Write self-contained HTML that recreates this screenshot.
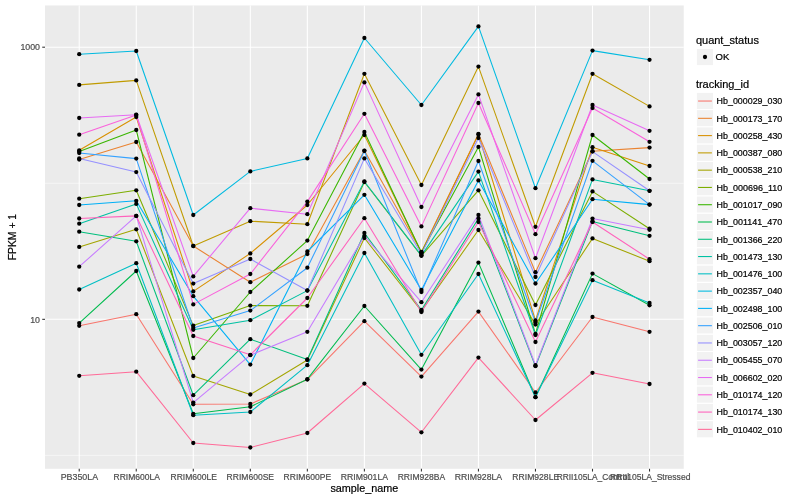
<!DOCTYPE html><html><head><meta charset="utf-8"><title>FPKM chart</title><style>
html,body{margin:0;padding:0;background:#fff;}body{width:800px;height:500px;overflow:hidden;font-family:"Liberation Sans",sans-serif;}svg{display:block;will-change:transform}text{font-family:"Liberation Sans",sans-serif;}
</style></head><body>
<svg width="800" height="500" viewBox="0 0 800 500">
<rect width="800" height="500" fill="#ffffff"/>
<rect x="45.0" y="5.45" width="638.75" height="463.35" fill="#EBEBEB"/>
<line x1="45.0" x2="683.75" y1="183.27" y2="183.27" stroke="#FFFFFF" stroke-width="0.53"/>
<line x1="45.0" x2="683.75" y1="455.40" y2="455.40" stroke="#FFFFFF" stroke-width="0.53"/>
<line x1="45.0" x2="683.75" y1="47.20" y2="47.20" stroke="#FFFFFF" stroke-width="1.07"/>
<line x1="45.0" x2="683.75" y1="319.33" y2="319.33" stroke="#FFFFFF" stroke-width="1.07"/>
<line x1="79.22" x2="79.22" y1="5.45" y2="468.8" stroke="#FFFFFF" stroke-width="1.07"/>
<line x1="136.25" x2="136.25" y1="5.45" y2="468.8" stroke="#FFFFFF" stroke-width="1.07"/>
<line x1="193.28" x2="193.28" y1="5.45" y2="468.8" stroke="#FFFFFF" stroke-width="1.07"/>
<line x1="250.31" x2="250.31" y1="5.45" y2="468.8" stroke="#FFFFFF" stroke-width="1.07"/>
<line x1="307.34" x2="307.34" y1="5.45" y2="468.8" stroke="#FFFFFF" stroke-width="1.07"/>
<line x1="364.38" x2="364.38" y1="5.45" y2="468.8" stroke="#FFFFFF" stroke-width="1.07"/>
<line x1="421.41" x2="421.41" y1="5.45" y2="468.8" stroke="#FFFFFF" stroke-width="1.07"/>
<line x1="478.44" x2="478.44" y1="5.45" y2="468.8" stroke="#FFFFFF" stroke-width="1.07"/>
<line x1="535.47" x2="535.47" y1="5.45" y2="468.8" stroke="#FFFFFF" stroke-width="1.07"/>
<line x1="592.50" x2="592.50" y1="5.45" y2="468.8" stroke="#FFFFFF" stroke-width="1.07"/>
<line x1="649.53" x2="649.53" y1="5.45" y2="468.8" stroke="#FFFFFF" stroke-width="1.07"/>
<g fill="none" stroke-width="1.07" stroke-linejoin="round" stroke-linecap="butt">
<polyline points="79.22,325.80 136.25,314.20 193.28,404.30 250.31,404.00 307.34,379.60 364.38,321.20 421.41,376.60 478.44,311.60 535.47,392.50 592.50,317.00 649.53,331.80" stroke="#F8766D"/>
<polyline points="79.22,159.50 136.25,142.00 193.28,246.00 250.31,282.20 307.34,254.00 364.38,150.60 421.41,252.00 478.44,134.00 535.47,272.20 592.50,151.20 649.53,147.60" stroke="#EA8331"/>
<polyline points="79.22,150.30 136.25,117.00 193.28,291.40 250.31,253.40 307.34,205.00 364.38,135.00 421.41,252.50 478.44,134.50 535.47,320.50 592.50,147.20 649.53,166.00" stroke="#D89000"/>
<polyline points="79.22,84.90 136.25,80.40 193.28,246.00 250.31,221.20 307.34,224.20 364.38,73.80 421.41,185.00 478.44,66.60 535.47,226.80 592.50,73.80 649.53,106.40" stroke="#C09B00"/>
<polyline points="79.22,246.90 136.25,229.30 193.28,376.00 250.31,394.50 307.34,360.00 364.38,238.00 421.41,311.00 478.44,230.00 535.47,324.50 592.50,238.40 649.53,261.20" stroke="#A3A500"/>
<polyline points="79.22,198.70 136.25,190.30 193.28,325.60 250.31,305.60 307.34,305.80 364.38,182.00 421.41,255.80 478.44,190.30 535.47,305.00 592.50,191.40 649.53,228.70" stroke="#7CAE00"/>
<polyline points="79.22,151.50 136.25,130.00 193.28,358.00 250.31,292.00 307.34,240.60 364.38,132.00 421.41,252.50 478.44,146.90 535.47,334.00 592.50,135.00 649.53,179.00" stroke="#39B600"/>
<polyline points="79.22,323.10 136.25,271.00 193.28,413.80 250.31,406.80 307.34,379.20 364.38,306.00 421.41,369.60 478.44,262.60 535.47,397.20 592.50,273.60 649.53,305.30" stroke="#00BB4E"/>
<polyline points="79.22,231.70 136.25,241.30 193.28,395.20 250.31,339.20 307.34,359.50 364.38,233.00 421.41,310.00 478.44,218.50 535.47,366.20 592.50,221.40 649.53,235.80" stroke="#00BF7D"/>
<polyline points="79.22,223.70 136.25,203.90 193.28,329.80 250.31,320.20 307.34,290.60 364.38,181.50 421.41,255.60 478.44,171.60 535.47,335.00 592.50,179.40 649.53,190.80" stroke="#00C1A3"/>
<polyline points="79.22,289.50 136.25,263.20 193.28,415.20 250.31,412.00 307.34,365.20 364.38,253.00 421.41,354.80 478.44,274.00 535.47,397.20 592.50,280.20 649.53,302.90" stroke="#00BFC4"/>
<polyline points="79.22,54.20 136.25,51.00 193.28,215.00 250.31,171.40 307.34,158.40 364.38,38.00 421.41,105.00 478.44,26.40 535.47,188.20 592.50,50.60 649.53,59.80" stroke="#00BAE0"/>
<polyline points="79.22,205.00 136.25,200.80 193.28,296.20 250.31,364.60 307.34,251.50 364.38,194.80 421.41,290.00 478.44,180.40 535.47,283.50 592.50,199.20 649.53,204.60" stroke="#00B0F6"/>
<polyline points="79.22,153.00 136.25,158.60 193.28,328.00 250.31,310.60 307.34,267.70 364.38,151.00 421.41,292.00 478.44,161.00 535.47,322.50 592.50,160.80 649.53,204.60" stroke="#35A2FF"/>
<polyline points="79.22,158.50 136.25,172.10 193.28,283.60 250.31,259.00 307.34,290.50 364.38,158.40 421.41,254.00 478.44,138.00 535.47,277.00 592.50,151.60 649.53,190.80" stroke="#9590FF"/>
<polyline points="79.22,266.70 136.25,215.90 193.28,402.60 250.31,355.20 307.34,331.80 364.38,236.00 421.41,302.20 478.44,215.00 535.47,365.20 592.50,218.60 649.53,229.80" stroke="#C77CFF"/>
<polyline points="79.22,118.00 136.25,114.70 193.28,276.40 250.31,208.20 307.34,214.20 364.38,82.40 421.41,207.00 478.44,94.40 535.47,258.20 592.50,105.00 649.53,130.80" stroke="#E76BF3"/>
<polyline points="79.22,134.70 136.25,115.00 193.28,304.40 250.31,274.00 307.34,201.60 364.38,113.80 421.41,226.40 478.44,103.00 535.47,234.20 592.50,108.00 649.53,141.80" stroke="#FA62DB"/>
<polyline points="79.22,218.50 136.25,215.90 193.28,336.00 250.31,354.80 307.34,298.00 364.38,218.20 421.41,312.00 478.44,222.00 535.47,342.00 592.50,222.00 649.53,259.20" stroke="#FF62BC"/>
<polyline points="79.22,375.80 136.25,371.70 193.28,443.00 250.31,447.50 307.34,433.00 364.38,383.60 421.41,432.30 478.44,357.60 535.47,420.00 592.50,372.80 649.53,384.00" stroke="#FF6A98"/>
</g>
<g fill="#000">
<circle cx="79.22" cy="325.80" r="2.13"/>
<circle cx="79.22" cy="159.50" r="2.13"/>
<circle cx="79.22" cy="150.30" r="2.13"/>
<circle cx="79.22" cy="84.90" r="2.13"/>
<circle cx="79.22" cy="246.90" r="2.13"/>
<circle cx="79.22" cy="198.70" r="2.13"/>
<circle cx="79.22" cy="151.50" r="2.13"/>
<circle cx="79.22" cy="323.10" r="2.13"/>
<circle cx="79.22" cy="231.70" r="2.13"/>
<circle cx="79.22" cy="223.70" r="2.13"/>
<circle cx="79.22" cy="289.50" r="2.13"/>
<circle cx="79.22" cy="54.20" r="2.13"/>
<circle cx="79.22" cy="205.00" r="2.13"/>
<circle cx="79.22" cy="153.00" r="2.13"/>
<circle cx="79.22" cy="158.50" r="2.13"/>
<circle cx="79.22" cy="266.70" r="2.13"/>
<circle cx="79.22" cy="118.00" r="2.13"/>
<circle cx="79.22" cy="134.70" r="2.13"/>
<circle cx="79.22" cy="218.50" r="2.13"/>
<circle cx="79.22" cy="375.80" r="2.13"/>
<circle cx="136.25" cy="314.20" r="2.13"/>
<circle cx="136.25" cy="142.00" r="2.13"/>
<circle cx="136.25" cy="117.00" r="2.13"/>
<circle cx="136.25" cy="80.40" r="2.13"/>
<circle cx="136.25" cy="229.30" r="2.13"/>
<circle cx="136.25" cy="190.30" r="2.13"/>
<circle cx="136.25" cy="130.00" r="2.13"/>
<circle cx="136.25" cy="271.00" r="2.13"/>
<circle cx="136.25" cy="241.30" r="2.13"/>
<circle cx="136.25" cy="203.90" r="2.13"/>
<circle cx="136.25" cy="263.20" r="2.13"/>
<circle cx="136.25" cy="51.00" r="2.13"/>
<circle cx="136.25" cy="200.80" r="2.13"/>
<circle cx="136.25" cy="158.60" r="2.13"/>
<circle cx="136.25" cy="172.10" r="2.13"/>
<circle cx="136.25" cy="215.90" r="2.13"/>
<circle cx="136.25" cy="114.70" r="2.13"/>
<circle cx="136.25" cy="115.00" r="2.13"/>
<circle cx="136.25" cy="215.90" r="2.13"/>
<circle cx="136.25" cy="371.70" r="2.13"/>
<circle cx="193.28" cy="404.30" r="2.13"/>
<circle cx="193.28" cy="246.00" r="2.13"/>
<circle cx="193.28" cy="291.40" r="2.13"/>
<circle cx="193.28" cy="246.00" r="2.13"/>
<circle cx="193.28" cy="376.00" r="2.13"/>
<circle cx="193.28" cy="325.60" r="2.13"/>
<circle cx="193.28" cy="358.00" r="2.13"/>
<circle cx="193.28" cy="413.80" r="2.13"/>
<circle cx="193.28" cy="395.20" r="2.13"/>
<circle cx="193.28" cy="329.80" r="2.13"/>
<circle cx="193.28" cy="415.20" r="2.13"/>
<circle cx="193.28" cy="215.00" r="2.13"/>
<circle cx="193.28" cy="296.20" r="2.13"/>
<circle cx="193.28" cy="328.00" r="2.13"/>
<circle cx="193.28" cy="283.60" r="2.13"/>
<circle cx="193.28" cy="402.60" r="2.13"/>
<circle cx="193.28" cy="276.40" r="2.13"/>
<circle cx="193.28" cy="304.40" r="2.13"/>
<circle cx="193.28" cy="336.00" r="2.13"/>
<circle cx="193.28" cy="443.00" r="2.13"/>
<circle cx="250.31" cy="404.00" r="2.13"/>
<circle cx="250.31" cy="282.20" r="2.13"/>
<circle cx="250.31" cy="253.40" r="2.13"/>
<circle cx="250.31" cy="221.20" r="2.13"/>
<circle cx="250.31" cy="394.50" r="2.13"/>
<circle cx="250.31" cy="305.60" r="2.13"/>
<circle cx="250.31" cy="292.00" r="2.13"/>
<circle cx="250.31" cy="406.80" r="2.13"/>
<circle cx="250.31" cy="339.20" r="2.13"/>
<circle cx="250.31" cy="320.20" r="2.13"/>
<circle cx="250.31" cy="412.00" r="2.13"/>
<circle cx="250.31" cy="171.40" r="2.13"/>
<circle cx="250.31" cy="364.60" r="2.13"/>
<circle cx="250.31" cy="310.60" r="2.13"/>
<circle cx="250.31" cy="259.00" r="2.13"/>
<circle cx="250.31" cy="355.20" r="2.13"/>
<circle cx="250.31" cy="208.20" r="2.13"/>
<circle cx="250.31" cy="274.00" r="2.13"/>
<circle cx="250.31" cy="354.80" r="2.13"/>
<circle cx="250.31" cy="447.50" r="2.13"/>
<circle cx="307.34" cy="379.60" r="2.13"/>
<circle cx="307.34" cy="254.00" r="2.13"/>
<circle cx="307.34" cy="205.00" r="2.13"/>
<circle cx="307.34" cy="224.20" r="2.13"/>
<circle cx="307.34" cy="360.00" r="2.13"/>
<circle cx="307.34" cy="305.80" r="2.13"/>
<circle cx="307.34" cy="240.60" r="2.13"/>
<circle cx="307.34" cy="379.20" r="2.13"/>
<circle cx="307.34" cy="359.50" r="2.13"/>
<circle cx="307.34" cy="290.60" r="2.13"/>
<circle cx="307.34" cy="365.20" r="2.13"/>
<circle cx="307.34" cy="158.40" r="2.13"/>
<circle cx="307.34" cy="251.50" r="2.13"/>
<circle cx="307.34" cy="267.70" r="2.13"/>
<circle cx="307.34" cy="290.50" r="2.13"/>
<circle cx="307.34" cy="331.80" r="2.13"/>
<circle cx="307.34" cy="214.20" r="2.13"/>
<circle cx="307.34" cy="201.60" r="2.13"/>
<circle cx="307.34" cy="298.00" r="2.13"/>
<circle cx="307.34" cy="433.00" r="2.13"/>
<circle cx="364.38" cy="321.20" r="2.13"/>
<circle cx="364.38" cy="150.60" r="2.13"/>
<circle cx="364.38" cy="135.00" r="2.13"/>
<circle cx="364.38" cy="73.80" r="2.13"/>
<circle cx="364.38" cy="238.00" r="2.13"/>
<circle cx="364.38" cy="182.00" r="2.13"/>
<circle cx="364.38" cy="132.00" r="2.13"/>
<circle cx="364.38" cy="306.00" r="2.13"/>
<circle cx="364.38" cy="233.00" r="2.13"/>
<circle cx="364.38" cy="181.50" r="2.13"/>
<circle cx="364.38" cy="253.00" r="2.13"/>
<circle cx="364.38" cy="38.00" r="2.13"/>
<circle cx="364.38" cy="194.80" r="2.13"/>
<circle cx="364.38" cy="151.00" r="2.13"/>
<circle cx="364.38" cy="158.40" r="2.13"/>
<circle cx="364.38" cy="236.00" r="2.13"/>
<circle cx="364.38" cy="82.40" r="2.13"/>
<circle cx="364.38" cy="113.80" r="2.13"/>
<circle cx="364.38" cy="218.20" r="2.13"/>
<circle cx="364.38" cy="383.60" r="2.13"/>
<circle cx="421.41" cy="376.60" r="2.13"/>
<circle cx="421.41" cy="252.00" r="2.13"/>
<circle cx="421.41" cy="252.50" r="2.13"/>
<circle cx="421.41" cy="185.00" r="2.13"/>
<circle cx="421.41" cy="311.00" r="2.13"/>
<circle cx="421.41" cy="255.80" r="2.13"/>
<circle cx="421.41" cy="252.50" r="2.13"/>
<circle cx="421.41" cy="369.60" r="2.13"/>
<circle cx="421.41" cy="310.00" r="2.13"/>
<circle cx="421.41" cy="255.60" r="2.13"/>
<circle cx="421.41" cy="354.80" r="2.13"/>
<circle cx="421.41" cy="105.00" r="2.13"/>
<circle cx="421.41" cy="290.00" r="2.13"/>
<circle cx="421.41" cy="292.00" r="2.13"/>
<circle cx="421.41" cy="254.00" r="2.13"/>
<circle cx="421.41" cy="302.20" r="2.13"/>
<circle cx="421.41" cy="207.00" r="2.13"/>
<circle cx="421.41" cy="226.40" r="2.13"/>
<circle cx="421.41" cy="312.00" r="2.13"/>
<circle cx="421.41" cy="432.30" r="2.13"/>
<circle cx="478.44" cy="311.60" r="2.13"/>
<circle cx="478.44" cy="134.00" r="2.13"/>
<circle cx="478.44" cy="134.50" r="2.13"/>
<circle cx="478.44" cy="66.60" r="2.13"/>
<circle cx="478.44" cy="230.00" r="2.13"/>
<circle cx="478.44" cy="190.30" r="2.13"/>
<circle cx="478.44" cy="146.90" r="2.13"/>
<circle cx="478.44" cy="262.60" r="2.13"/>
<circle cx="478.44" cy="218.50" r="2.13"/>
<circle cx="478.44" cy="171.60" r="2.13"/>
<circle cx="478.44" cy="274.00" r="2.13"/>
<circle cx="478.44" cy="26.40" r="2.13"/>
<circle cx="478.44" cy="180.40" r="2.13"/>
<circle cx="478.44" cy="161.00" r="2.13"/>
<circle cx="478.44" cy="138.00" r="2.13"/>
<circle cx="478.44" cy="215.00" r="2.13"/>
<circle cx="478.44" cy="94.40" r="2.13"/>
<circle cx="478.44" cy="103.00" r="2.13"/>
<circle cx="478.44" cy="222.00" r="2.13"/>
<circle cx="478.44" cy="357.60" r="2.13"/>
<circle cx="535.47" cy="392.50" r="2.13"/>
<circle cx="535.47" cy="272.20" r="2.13"/>
<circle cx="535.47" cy="320.50" r="2.13"/>
<circle cx="535.47" cy="226.80" r="2.13"/>
<circle cx="535.47" cy="324.50" r="2.13"/>
<circle cx="535.47" cy="305.00" r="2.13"/>
<circle cx="535.47" cy="334.00" r="2.13"/>
<circle cx="535.47" cy="397.20" r="2.13"/>
<circle cx="535.47" cy="366.20" r="2.13"/>
<circle cx="535.47" cy="335.00" r="2.13"/>
<circle cx="535.47" cy="397.20" r="2.13"/>
<circle cx="535.47" cy="188.20" r="2.13"/>
<circle cx="535.47" cy="283.50" r="2.13"/>
<circle cx="535.47" cy="322.50" r="2.13"/>
<circle cx="535.47" cy="277.00" r="2.13"/>
<circle cx="535.47" cy="365.20" r="2.13"/>
<circle cx="535.47" cy="258.20" r="2.13"/>
<circle cx="535.47" cy="234.20" r="2.13"/>
<circle cx="535.47" cy="342.00" r="2.13"/>
<circle cx="535.47" cy="420.00" r="2.13"/>
<circle cx="592.50" cy="317.00" r="2.13"/>
<circle cx="592.50" cy="151.20" r="2.13"/>
<circle cx="592.50" cy="147.20" r="2.13"/>
<circle cx="592.50" cy="73.80" r="2.13"/>
<circle cx="592.50" cy="238.40" r="2.13"/>
<circle cx="592.50" cy="191.40" r="2.13"/>
<circle cx="592.50" cy="135.00" r="2.13"/>
<circle cx="592.50" cy="273.60" r="2.13"/>
<circle cx="592.50" cy="221.40" r="2.13"/>
<circle cx="592.50" cy="179.40" r="2.13"/>
<circle cx="592.50" cy="280.20" r="2.13"/>
<circle cx="592.50" cy="50.60" r="2.13"/>
<circle cx="592.50" cy="199.20" r="2.13"/>
<circle cx="592.50" cy="160.80" r="2.13"/>
<circle cx="592.50" cy="151.60" r="2.13"/>
<circle cx="592.50" cy="218.60" r="2.13"/>
<circle cx="592.50" cy="105.00" r="2.13"/>
<circle cx="592.50" cy="108.00" r="2.13"/>
<circle cx="592.50" cy="222.00" r="2.13"/>
<circle cx="592.50" cy="372.80" r="2.13"/>
<circle cx="649.53" cy="331.80" r="2.13"/>
<circle cx="649.53" cy="147.60" r="2.13"/>
<circle cx="649.53" cy="166.00" r="2.13"/>
<circle cx="649.53" cy="106.40" r="2.13"/>
<circle cx="649.53" cy="261.20" r="2.13"/>
<circle cx="649.53" cy="228.70" r="2.13"/>
<circle cx="649.53" cy="179.00" r="2.13"/>
<circle cx="649.53" cy="305.30" r="2.13"/>
<circle cx="649.53" cy="235.80" r="2.13"/>
<circle cx="649.53" cy="190.80" r="2.13"/>
<circle cx="649.53" cy="302.90" r="2.13"/>
<circle cx="649.53" cy="59.80" r="2.13"/>
<circle cx="649.53" cy="204.60" r="2.13"/>
<circle cx="649.53" cy="204.60" r="2.13"/>
<circle cx="649.53" cy="190.80" r="2.13"/>
<circle cx="649.53" cy="229.80" r="2.13"/>
<circle cx="649.53" cy="130.80" r="2.13"/>
<circle cx="649.53" cy="141.80" r="2.13"/>
<circle cx="649.53" cy="259.20" r="2.13"/>
<circle cx="649.53" cy="384.00" r="2.13"/>
</g>
<g stroke="#333333" stroke-width="1.07">
<line x1="42.25" x2="45.0" y1="47.20" y2="47.20"/>
<line x1="42.25" x2="45.0" y1="319.33" y2="319.33"/>
<line x1="79.22" x2="79.22" y1="468.8" y2="471.55"/>
<line x1="136.25" x2="136.25" y1="468.8" y2="471.55"/>
<line x1="193.28" x2="193.28" y1="468.8" y2="471.55"/>
<line x1="250.31" x2="250.31" y1="468.8" y2="471.55"/>
<line x1="307.34" x2="307.34" y1="468.8" y2="471.55"/>
<line x1="364.38" x2="364.38" y1="468.8" y2="471.55"/>
<line x1="421.41" x2="421.41" y1="468.8" y2="471.55"/>
<line x1="478.44" x2="478.44" y1="468.8" y2="471.55"/>
<line x1="535.47" x2="535.47" y1="468.8" y2="471.55"/>
<line x1="592.50" x2="592.50" y1="468.8" y2="471.55"/>
<line x1="649.53" x2="649.53" y1="468.8" y2="471.55"/>
</g>
<g font-size="8.8" fill="#4D4D4D" stroke="#4D4D4D" stroke-width="0.2">
<text x="40" y="50.1" text-anchor="end">1000</text>
<text x="40" y="322.9" text-anchor="end">10</text>
<text x="79.42" y="479.8" text-anchor="middle" textLength="37.4" lengthAdjust="spacingAndGlyphs">PB350LA</text>
<text x="136.75" y="479.8" text-anchor="middle" textLength="46.5" lengthAdjust="spacingAndGlyphs">RRIM600LA</text>
<text x="193.78" y="479.8" text-anchor="middle" textLength="46.5" lengthAdjust="spacingAndGlyphs">RRIM600LE</text>
<text x="250.31" y="479.8" text-anchor="middle" textLength="47.5" lengthAdjust="spacingAndGlyphs">RRIM600SE</text>
<text x="307.34" y="479.8" text-anchor="middle" textLength="47.5" lengthAdjust="spacingAndGlyphs">RRIM600PE</text>
<text x="364.38" y="479.8" text-anchor="middle" textLength="47.5" lengthAdjust="spacingAndGlyphs">RRIM901LA</text>
<text x="421.41" y="479.8" text-anchor="middle" textLength="47.5" lengthAdjust="spacingAndGlyphs">RRIM928BA</text>
<text x="478.44" y="479.8" text-anchor="middle" textLength="47.5" lengthAdjust="spacingAndGlyphs">RRIM928LA</text>
<text x="535.77" y="479.8" text-anchor="middle" textLength="46.8" lengthAdjust="spacingAndGlyphs">RRIM928LE</text>
<text x="592.90" y="479.8" text-anchor="middle" textLength="72.5" lengthAdjust="spacingAndGlyphs">RRII105LA_Control</text>
<text x="650.23" y="479.8" text-anchor="middle" textLength="80.4" lengthAdjust="spacingAndGlyphs">RRII105LA_Stressed</text>
</g>
<g font-size="11" fill="#000" stroke="#000" stroke-width="0.2">
<text x="364.38" y="492.0" text-anchor="middle" textLength="67.9" lengthAdjust="spacingAndGlyphs">sample_name</text>
<text transform="translate(16.3,237.12) rotate(-90)" text-anchor="middle" textLength="46.5" lengthAdjust="spacingAndGlyphs">FPKM + 1</text>
<text x="695.9" y="43.8">quant_status</text>
<text x="695.9" y="87.7">tracking_id</text>
</g>
<rect x="696.35" y="48.4" width="17.28" height="17.28" fill="#F2F2F2" stroke="#fff" stroke-width="1.07"/>
<circle cx="704.99" cy="57.0" r="2.13" fill="#000"/>
<text x="715.6" y="60.0" font-size="8.8" fill="#000" stroke="#000" stroke-width="0.2" textLength="13.8" lengthAdjust="spacingAndGlyphs">OK</text>
<rect x="696.35" y="92.30" width="17.28" height="17.28" fill="#F2F2F2" stroke="#fff" stroke-width="1.07"/>
<line x1="698.08" x2="711.90" y1="101.04" y2="101.04" stroke="#F8766D" stroke-width="1.07"/>
<text x="716.6" y="104.29" font-size="8.8" fill="#000" stroke="#000" stroke-width="0.2" textLength="65.7" lengthAdjust="spacingAndGlyphs">Hb_000029_030</text>
<rect x="696.35" y="109.58" width="17.28" height="17.28" fill="#F2F2F2" stroke="#fff" stroke-width="1.07"/>
<line x1="698.08" x2="711.90" y1="118.32" y2="118.32" stroke="#EA8331" stroke-width="1.07"/>
<text x="716.6" y="121.57" font-size="8.8" fill="#000" stroke="#000" stroke-width="0.2" textLength="65.7" lengthAdjust="spacingAndGlyphs">Hb_000173_170</text>
<rect x="696.35" y="126.86" width="17.28" height="17.28" fill="#F2F2F2" stroke="#fff" stroke-width="1.07"/>
<line x1="698.08" x2="711.90" y1="135.60" y2="135.60" stroke="#D89000" stroke-width="1.07"/>
<text x="716.6" y="138.85" font-size="8.8" fill="#000" stroke="#000" stroke-width="0.2" textLength="65.7" lengthAdjust="spacingAndGlyphs">Hb_000258_430</text>
<rect x="696.35" y="144.14" width="17.28" height="17.28" fill="#F2F2F2" stroke="#fff" stroke-width="1.07"/>
<line x1="698.08" x2="711.90" y1="152.88" y2="152.88" stroke="#C09B00" stroke-width="1.07"/>
<text x="716.6" y="156.13" font-size="8.8" fill="#000" stroke="#000" stroke-width="0.2" textLength="65.7" lengthAdjust="spacingAndGlyphs">Hb_000387_080</text>
<rect x="696.35" y="161.42" width="17.28" height="17.28" fill="#F2F2F2" stroke="#fff" stroke-width="1.07"/>
<line x1="698.08" x2="711.90" y1="170.16" y2="170.16" stroke="#A3A500" stroke-width="1.07"/>
<text x="716.6" y="173.41" font-size="8.8" fill="#000" stroke="#000" stroke-width="0.2" textLength="65.7" lengthAdjust="spacingAndGlyphs">Hb_000538_210</text>
<rect x="696.35" y="178.70" width="17.28" height="17.28" fill="#F2F2F2" stroke="#fff" stroke-width="1.07"/>
<line x1="698.08" x2="711.90" y1="187.44" y2="187.44" stroke="#7CAE00" stroke-width="1.07"/>
<text x="716.6" y="190.69" font-size="8.8" fill="#000" stroke="#000" stroke-width="0.2" textLength="65.7" lengthAdjust="spacingAndGlyphs">Hb_000696_110</text>
<rect x="696.35" y="195.98" width="17.28" height="17.28" fill="#F2F2F2" stroke="#fff" stroke-width="1.07"/>
<line x1="698.08" x2="711.90" y1="204.72" y2="204.72" stroke="#39B600" stroke-width="1.07"/>
<text x="716.6" y="207.97" font-size="8.8" fill="#000" stroke="#000" stroke-width="0.2" textLength="65.7" lengthAdjust="spacingAndGlyphs">Hb_001017_090</text>
<rect x="696.35" y="213.26" width="17.28" height="17.28" fill="#F2F2F2" stroke="#fff" stroke-width="1.07"/>
<line x1="698.08" x2="711.90" y1="222.00" y2="222.00" stroke="#00BB4E" stroke-width="1.07"/>
<text x="716.6" y="225.25" font-size="8.8" fill="#000" stroke="#000" stroke-width="0.2" textLength="65.7" lengthAdjust="spacingAndGlyphs">Hb_001141_470</text>
<rect x="696.35" y="230.54" width="17.28" height="17.28" fill="#F2F2F2" stroke="#fff" stroke-width="1.07"/>
<line x1="698.08" x2="711.90" y1="239.28" y2="239.28" stroke="#00BF7D" stroke-width="1.07"/>
<text x="716.6" y="242.53" font-size="8.8" fill="#000" stroke="#000" stroke-width="0.2" textLength="65.7" lengthAdjust="spacingAndGlyphs">Hb_001366_220</text>
<rect x="696.35" y="247.82" width="17.28" height="17.28" fill="#F2F2F2" stroke="#fff" stroke-width="1.07"/>
<line x1="698.08" x2="711.90" y1="256.56" y2="256.56" stroke="#00C1A3" stroke-width="1.07"/>
<text x="716.6" y="259.81" font-size="8.8" fill="#000" stroke="#000" stroke-width="0.2" textLength="65.7" lengthAdjust="spacingAndGlyphs">Hb_001473_130</text>
<rect x="696.35" y="265.10" width="17.28" height="17.28" fill="#F2F2F2" stroke="#fff" stroke-width="1.07"/>
<line x1="698.08" x2="711.90" y1="273.84" y2="273.84" stroke="#00BFC4" stroke-width="1.07"/>
<text x="716.6" y="277.09" font-size="8.8" fill="#000" stroke="#000" stroke-width="0.2" textLength="65.7" lengthAdjust="spacingAndGlyphs">Hb_001476_100</text>
<rect x="696.35" y="282.38" width="17.28" height="17.28" fill="#F2F2F2" stroke="#fff" stroke-width="1.07"/>
<line x1="698.08" x2="711.90" y1="291.12" y2="291.12" stroke="#00BAE0" stroke-width="1.07"/>
<text x="716.6" y="294.37" font-size="8.8" fill="#000" stroke="#000" stroke-width="0.2" textLength="65.7" lengthAdjust="spacingAndGlyphs">Hb_002357_040</text>
<rect x="696.35" y="299.66" width="17.28" height="17.28" fill="#F2F2F2" stroke="#fff" stroke-width="1.07"/>
<line x1="698.08" x2="711.90" y1="308.40" y2="308.40" stroke="#00B0F6" stroke-width="1.07"/>
<text x="716.6" y="311.65" font-size="8.8" fill="#000" stroke="#000" stroke-width="0.2" textLength="65.7" lengthAdjust="spacingAndGlyphs">Hb_002498_100</text>
<rect x="696.35" y="316.94" width="17.28" height="17.28" fill="#F2F2F2" stroke="#fff" stroke-width="1.07"/>
<line x1="698.08" x2="711.90" y1="325.68" y2="325.68" stroke="#35A2FF" stroke-width="1.07"/>
<text x="716.6" y="328.93" font-size="8.8" fill="#000" stroke="#000" stroke-width="0.2" textLength="65.7" lengthAdjust="spacingAndGlyphs">Hb_002506_010</text>
<rect x="696.35" y="334.22" width="17.28" height="17.28" fill="#F2F2F2" stroke="#fff" stroke-width="1.07"/>
<line x1="698.08" x2="711.90" y1="342.96" y2="342.96" stroke="#9590FF" stroke-width="1.07"/>
<text x="716.6" y="346.21" font-size="8.8" fill="#000" stroke="#000" stroke-width="0.2" textLength="65.7" lengthAdjust="spacingAndGlyphs">Hb_003057_120</text>
<rect x="696.35" y="351.50" width="17.28" height="17.28" fill="#F2F2F2" stroke="#fff" stroke-width="1.07"/>
<line x1="698.08" x2="711.90" y1="360.24" y2="360.24" stroke="#C77CFF" stroke-width="1.07"/>
<text x="716.6" y="363.49" font-size="8.8" fill="#000" stroke="#000" stroke-width="0.2" textLength="65.7" lengthAdjust="spacingAndGlyphs">Hb_005455_070</text>
<rect x="696.35" y="368.78" width="17.28" height="17.28" fill="#F2F2F2" stroke="#fff" stroke-width="1.07"/>
<line x1="698.08" x2="711.90" y1="377.52" y2="377.52" stroke="#E76BF3" stroke-width="1.07"/>
<text x="716.6" y="380.77" font-size="8.8" fill="#000" stroke="#000" stroke-width="0.2" textLength="65.7" lengthAdjust="spacingAndGlyphs">Hb_006602_020</text>
<rect x="696.35" y="386.06" width="17.28" height="17.28" fill="#F2F2F2" stroke="#fff" stroke-width="1.07"/>
<line x1="698.08" x2="711.90" y1="394.80" y2="394.80" stroke="#FA62DB" stroke-width="1.07"/>
<text x="716.6" y="398.05" font-size="8.8" fill="#000" stroke="#000" stroke-width="0.2" textLength="65.7" lengthAdjust="spacingAndGlyphs">Hb_010174_120</text>
<rect x="696.35" y="403.34" width="17.28" height="17.28" fill="#F2F2F2" stroke="#fff" stroke-width="1.07"/>
<line x1="698.08" x2="711.90" y1="412.08" y2="412.08" stroke="#FF62BC" stroke-width="1.07"/>
<text x="716.6" y="415.33" font-size="8.8" fill="#000" stroke="#000" stroke-width="0.2" textLength="65.7" lengthAdjust="spacingAndGlyphs">Hb_010174_130</text>
<rect x="696.35" y="420.62" width="17.28" height="17.28" fill="#F2F2F2" stroke="#fff" stroke-width="1.07"/>
<line x1="698.08" x2="711.90" y1="429.36" y2="429.36" stroke="#FF6A98" stroke-width="1.07"/>
<text x="716.6" y="432.61" font-size="8.8" fill="#000" stroke="#000" stroke-width="0.2" textLength="65.7" lengthAdjust="spacingAndGlyphs">Hb_010402_010</text>
</svg></body></html>
